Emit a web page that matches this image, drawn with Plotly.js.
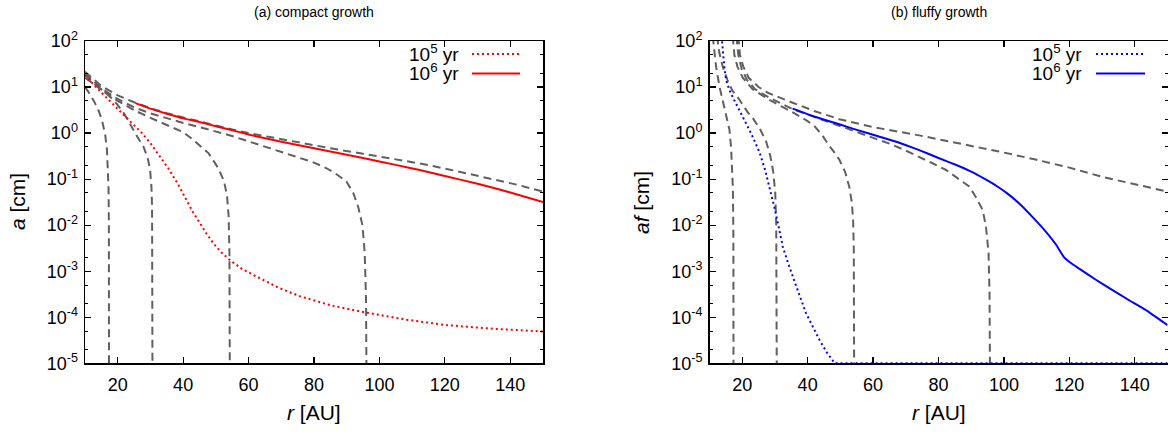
<!DOCTYPE html>
<html><head><meta charset="utf-8">
<script src="https://cdn.plot.ly/plotly-3.0.1.min.js"></script>
<style>html,body{margin:0;padding:0;background:#fff}</style>
</head><body><div id="chart" style="width:1168px;height:434px"></div>
<script>
// ---------- panel (a) compact growth ----------
const a_g1_r = [10,15,20,25,30,35,40,45,50,55,60,66.5,75,85,95,105,112.3,120,126.5,135,142,150];
const a_g1_v = [21.4,10.5,6.61,4.68,3.47,2.69,2.19,1.78,1.45,1.20,1.0,0.813,0.631,0.468,0.355,0.269,0.219,0.170,0.134,0.100,0.0759,0.0537];
const a_g2_r = [10,15,20,25,30,35,40,45,50,53.9,60,66.5,70,75,80,84,87,89.9,92,93.5,94.8,95.5,95.9,96.1];
const a_g2_v = [19.95,9.33,5.50,3.63,2.69,2.09,1.66,1.35,1.10,0.912,0.661,0.468,0.389,0.309,0.229,0.170,0.126,0.0891,0.0501,0.0251,0.01,0.00251,0.000251,1e-6];
const a_g3_r = [10,15,20,25,30,35,40,42.6,45,47.8,50.8,52.5,53.4,53.9,54.15,54.3];
const a_g3_v = [18.2,8.51,5.01,3.16,2.14,1.51,1.05,0.759,0.550,0.363,0.170,0.0891,0.0447,0.0158,0.00251,1e-6];
const a_g4_r = [10,13,16,19.2,22,24.3,25.3,27.9,29.2,29.9,30.3,30.5,30.6,30.65];
const a_g4_v = [15.85,11.22,7.94,4.79,2.63,1.35,1.0,0.501,0.282,0.158,0.0708,0.0251,0.00398,1e-6];
const a_g5_r = [10,11.5,13.05,14.2,15.2,16.2,16.7,17.0,17.2,17.3,17.35];
const a_g5_v = [10,7.08,4.47,3.02,1.91,0.891,0.447,0.186,0.0631,0.01,1e-6];
const a_yr5_r = [10,12,15,19.7,22.3,25,27.4,30,32.5,35.6,38.5,41,43,45.1,47,49.2,51.5,54.3,58,62,65.5,69.5,75.6,85,96,108,120.4,135,150];
const a_yr5_v = [18.6,12.6,7.59,3.47,2.29,1.48,1.0,0.603,0.339,0.166,0.0759,0.0355,0.0191,0.0112,0.00676,0.00407,0.00263,0.00174,0.00112,0.000794,0.000589,0.000427,0.000288,0.000182,0.000126,0.0000891,0.0000676,0.0000562,0.0000490];
const a_yr6_r = [25.4,30,35,40,45,50,55,60,66.5,75,85,95,105,112.3,120,130,140,150];
const a_yr6_v = [4.47,3.39,2.63,2.09,1.74,1.41,1.15,0.933,0.733,0.550,0.398,0.288,0.204,0.158,0.117,0.0794,0.0513,0.0316];

// ---------- panel (b) fluffy growth ----------
const b_g1_r = [11.0,11.3,12,13.05,14.5,15.5,16.1,16.6,16.9,17.15,17.3,17.35];
const b_g1_v = [125.9,70.8,28.2,10.2,3.55,1.91,1.18,0.479,0.219,0.0631,0.00631,1e-6];
const b_g2_r = [12.3,13,14,15.5,17,19,21.7,23.2,25.5,27.3,27.8,28.6,29.5,30.1,30.4,30.55,30.6];
const b_g2_v = [125.9,56.2,28.2,14.1,8.32,5.50,2.82,2.14,1.20,0.661,0.501,0.316,0.141,0.0501,0.01,0.001,1e-6];
const b_g3_r = [17.1,17.6,18.5,20.2,23.2,28.3,32,36,40,42.1,44.5,46.6,48.5,49.7,51.5,52.7,53.5,53.9,54.1,54.25];
const b_g3_v = [125.9,50.1,28.2,15.85,8.91,5.25,3.80,2.69,1.82,1.41,0.891,0.525,0.355,0.263,0.141,0.0692,0.0316,0.0126,0.00316,1e-6];
const b_g4_r = [18.2,18.8,19.8,21.5,24,28,35.4,42,49.7,55,60,65,70,74.1,78,82.3,86,89.4,91.5,93.5,94.5,95.3,95.6,95.8];
const b_g4_v = [125.9,50.1,25.1,14.1,8.91,6.03,3.31,2.24,1.41,1.05,0.776,0.589,0.417,0.309,0.224,0.158,0.105,0.0692,0.0398,0.0214,0.00933,0.00251,0.000316,1e-6];
const b_g5_r = [18.8,19.3,20.3,22,25,28,35.4,42,49.7,60,74.1,86,98.5,110,120,130,140,150];
const b_g5_v = [125.9,50.1,28.2,15.85,10,7.41,4.57,3.02,2.0,1.35,0.891,0.603,0.398,0.263,0.178,0.112,0.0776,0.0537];
const b_yr5_r = [13.7,14.2,14.6,15.1,16,17.1,19,21.2,23,25.3,27,28.3,29.8,30.9,32.4,34,35.4,37.5,39.5,41.5,43.6,46,48.3,150];
const b_yr5_v = [125.9,39.8,24.0,14.1,8.91,6.03,3.16,1.62,0.891,0.380,0.158,0.0692,0.0251,0.0112,0.00339,0.00151,0.000759,0.000302,0.000123,0.0000631,0.0000324,0.0000166,0.00001,0.00001];
const b_yr6_r = [35.4,42,49.7,55,62,68,74.1,80,86,90,94,98,101,104.7,108.7,112.8,115.9,118.4,121,123,128,133.2,138,143.3,150];
const b_yr6_v = [3.39,2.29,1.55,1.175,0.832,0.617,0.427,0.288,0.195,0.145,0.102,0.0692,0.0490,0.0295,0.0151,0.00724,0.00380,0.00200,0.00142,0.00114,0.000661,0.000389,0.000240,0.000145,0.0000676];

// ---------- ticks & labels ----------
const yTickVals = [1e-5,1e-4,1e-3,1e-2,1e-1,1,10,100];
const yTickText = ['10<sup>-5</sup>','10<sup>-4</sup>','10<sup>-3</sup>','10<sup>-2</sup>','10<sup>-1</sup>','10<sup>0</sup>','10<sup>1</sup>','10<sup>2</sup>'];
const yMinorVals = [2e-5,5e-5,2e-4,5e-4,2e-3,5e-3,2e-2,5e-2,0.2,0.5,2,5,20,50];
const xTickVals = [20,40,60,80,100,120,140];
const panelTitles = ['(a) compact growth','(b) fluffy growth'];
const yTitles = ['<i>a</i> [cm]','<i>af</i> [cm]'];
const xTitle = '<i>r</i> [AU]';
const legendText = ['10<sup>5</sup> yr','10<sup>6</sup> yr'];

const GRAY = '#606060';
const DASH = '8px,5px';
const DOT = '2px,3px';
const FONT = 'Liberation Sans, Arial, Helvetica, sans-serif';

function gray(x, y, xa, ya) {
  return {x:x, y:y, xaxis:xa, yaxis:ya, mode:'lines', showlegend:false, hoverinfo:'skip',
          line:{color:GRAY, width:2, dash:DASH}};
}
function colored(x, y, xa, ya, color, dash, shape) {
  const line = {color:color, width:2, dash:dash, shape:shape};
  if (shape === 'spline') line.smoothing = 0.4;
  return {x:x, y:y, xaxis:xa, yaxis:ya, mode:'lines', showlegend:false, hoverinfo:'skip', line:line};
}

const traces = [
  gray(a_g1_r,a_g1_v,'x','y'), gray(a_g2_r,a_g2_v,'x','y'), gray(a_g3_r,a_g3_v,'x','y'), gray(a_g4_r,a_g4_v,'x','y'), gray(a_g5_r,a_g5_v,'x','y'),
  colored(a_yr5_r,a_yr5_v,'x','y','#ff0000',DOT,'linear'), colored(a_yr6_r,a_yr6_v,'x','y','#ff0000','solid','spline'),
  gray(b_g1_r,b_g1_v,'x2','y2'), gray(b_g2_r,b_g2_v,'x2','y2'), gray(b_g3_r,b_g3_v,'x2','y2'), gray(b_g4_r,b_g4_v,'x2','y2'), gray(b_g5_r,b_g5_v,'x2','y2'),
  colored(b_yr5_r,b_yr5_v,'x2','y2','#0000ff',DOT,'linear'), colored(b_yr6_r,b_yr6_v,'x2','y2','#0000ff','solid','spline')
];

const W = 1168, H = 434;
const px = v => v / W;
const py = v => (H - v) / H;

function xAxis(domain, anchor) {
  return {domain:domain, anchor:anchor, range:[10,150], tickmode:'array', tickvals:xTickVals,
          ticks:'inside', ticklen:6, tickwidth:1.2, tickcolor:'#000', mirror:'ticks', showline:true,
          linecolor:'#000', linewidth:1.5, showgrid:false, zeroline:false, automargin:false,
          tickfont:{family:FONT, size:18, color:'#000'}, ticklabelstandoff:5, layer:'below traces'};
}
function yAxis(domain, anchor) {
  return {domain:domain, anchor:anchor, type:'log', range:[-5,2], tickmode:'array', tickvals:yTickVals, ticktext:yTickText,
          ticks:'inside', ticklen:6, tickwidth:1.2, tickcolor:'#000', mirror:'ticks', showline:true,
          linecolor:'#000', linewidth:1.5, showgrid:false, zeroline:false, automargin:false,
          minor:{tickmode:'array', tickvals:yMinorVals, ticks:'inside', ticklen:3, tickwidth:1, tickcolor:'#000'},
          tickfont:{family:FONT, size:18, color:'#000'}, ticklabelstandoff:2};
}

function note(text, x, y, size, extra) {
  return Object.assign({text:text, x:px(x), y:py(y), xref:'paper', yref:'paper', showarrow:false,
                        xanchor:'center', yanchor:'middle', font:{size:size, family:FONT, color:'#000'}}, extra || {});
}

const yDom = [py(363.3), py(41)];
const layout = {
  width:W, height:H, margin:{l:0,r:0,t:0,b:0}, paper_bgcolor:'#fff', plot_bgcolor:'#fff',
  font:{family:FONT, color:'#000'}, showlegend:false,
  xaxis: xAxis([px(85), px(543)], 'y'),
  yaxis: yAxis(yDom, 'x'),
  xaxis2: xAxis([px(709.5), px(1167.5)], 'y2'),
  yaxis2: yAxis(yDom, 'x2'),
  annotations: [
    note(panelTitles[0], 314, 12, 14),
    note(panelTitles[1], 939, 12, 14),
    note(xTitle, 314, 412, 21),
    note(xTitle, 939, 412, 21),
    note(yTitles[0], 17, 202, 21, {textangle:-90}),
    note(yTitles[1], 641, 202, 21, {textangle:-90}),
    note(legendText[0], 461, 53, 19, {xanchor:'right'}),
    note(legendText[1], 461, 72, 19, {xanchor:'right'}),
    note(legendText[0], 1084, 53, 19, {xanchor:'right'}),
    note(legendText[1], 1084, 72, 19, {xanchor:'right'})
  ],
  shapes: [
    {type:'line', xref:'paper', yref:'paper', x0:px(472), x1:px(520), y0:py(54), y1:py(54), line:{color:'#ff0000', width:2, dash:DOT}},
    {type:'line', xref:'paper', yref:'paper', x0:px(472), x1:px(520), y0:py(73.5), y1:py(73.5), line:{color:'#ff0000', width:2}},
    {type:'line', xref:'paper', yref:'paper', x0:px(1096), x1:px(1145), y0:py(54), y1:py(54), line:{color:'#0000ff', width:2, dash:DOT}},
    {type:'line', xref:'paper', yref:'paper', x0:px(1096), x1:px(1145), y0:py(73.5), y1:py(73.5), line:{color:'#0000ff', width:2}}
  ]
};

Plotly.newPlot('chart', traces, layout, {staticPlot:true, displayModeBar:false});
</script></body></html>
